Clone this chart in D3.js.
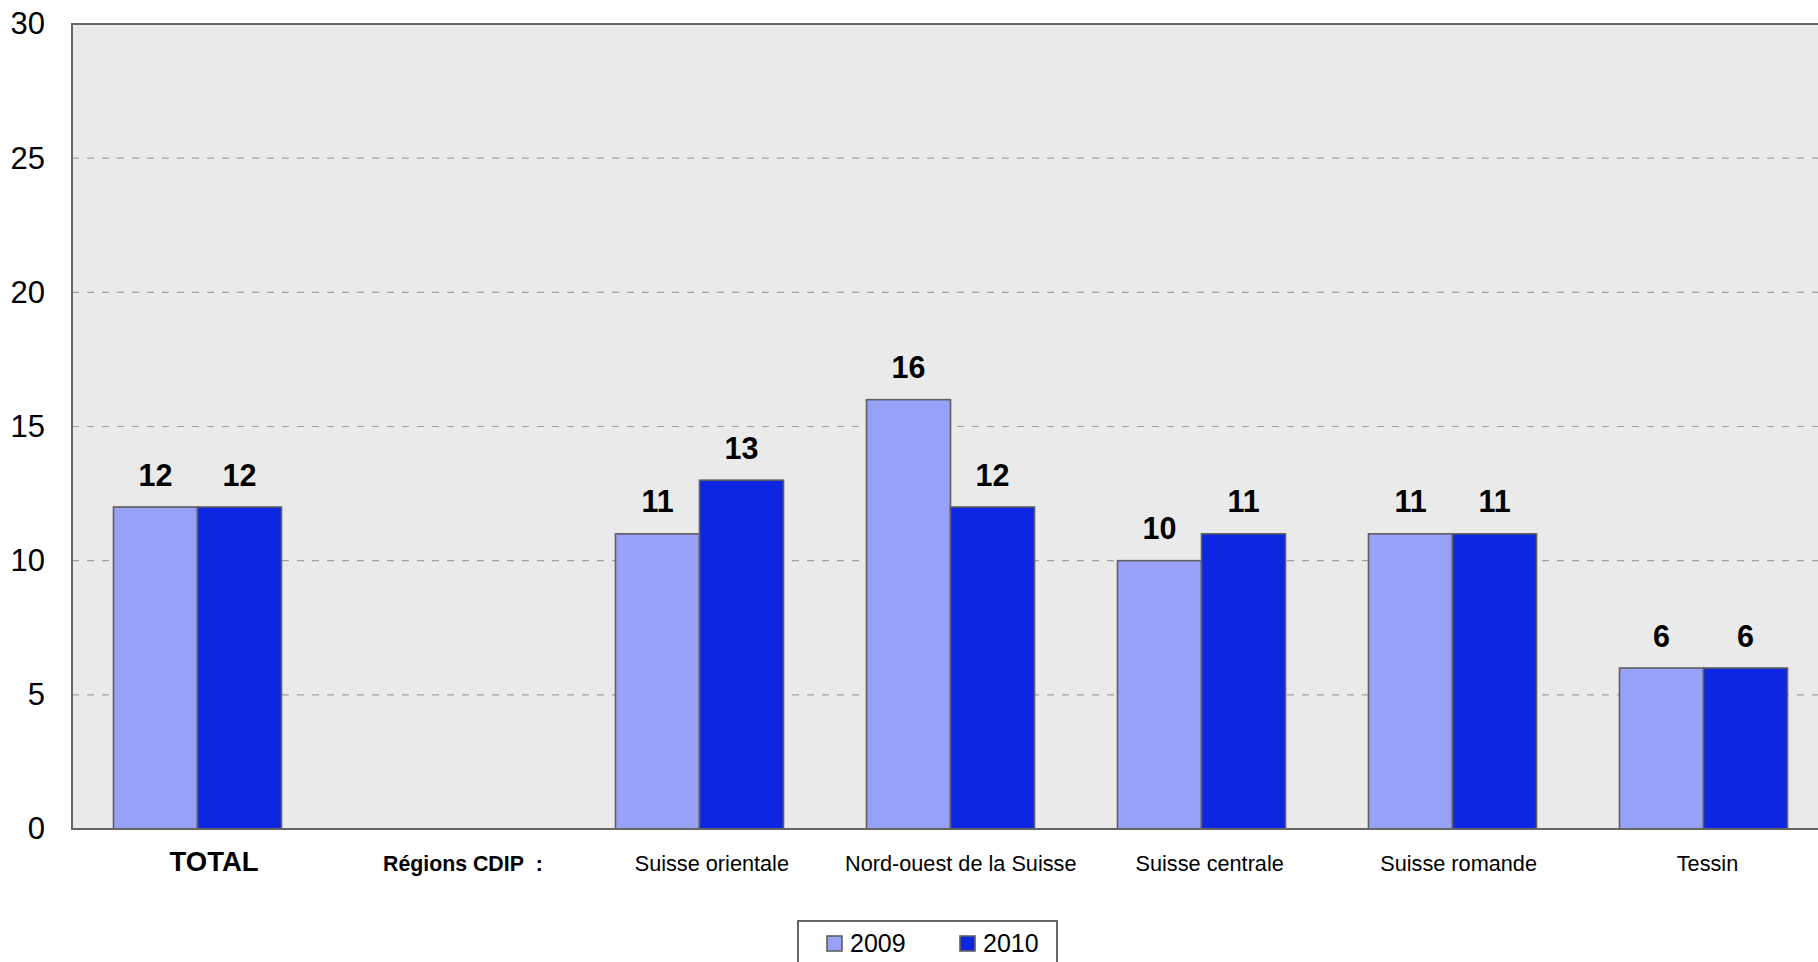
<!DOCTYPE html>
<html>
<head>
<meta charset="utf-8">
<script src="https://cdn.jsdelivr.net/npm/d3@7"></script>
<style>
  html, body { margin: 0; padding: 0; background: #ffffff; overflow: hidden; }
  svg { display: block; font-family: "Liberation Sans", Arial, sans-serif; }
</style>
</head>
<body>
<svg id="chart" width="1818" height="962"></svg>
<script>
// ---- data ----
const categories = ["TOTAL", "Régions CDIP\u00a0\u00a0:", "Suisse orientale", "Nord-ouest de la Suisse", "Suisse centrale", "Suisse romande", "Tessin"];
const boldCategories = ["TOTAL", "Régions CDIP\u00a0\u00a0:"];
const years = ["2009", "2010"];
const values2009 = [12, null, 11, 16, 10, 11, 6];
const values2010 = [12, null, 13, 12, 11, 11, 6];
const yTicks = [0, 5, 10, 15, 20, 25, 30];
const colors = ["#97a1f8", "#0c26e2"];

const series = [values2009, values2010];

const svg = d3.select("#chart");
const plotLeft = 72, plotTop = 24, plotBottom = 829, bandStep = 251;
const plotRight = plotLeft + bandStep * categories.length;

const x = d3.scaleBand().domain(categories).range([plotLeft, plotRight])
  .paddingInner(83 / 251).paddingOuter(83 / 502);
const xs = d3.scaleBand().domain(years).range([0, x.bandwidth()]).padding(0);
const y = d3.scaleLinear().domain([0, 30]).range([plotBottom, plotTop]);
const xLabel = d3.scalePoint().domain(categories).range([213.5, 1707]);

// plot background
svg.append("rect").attr("x", plotLeft).attr("y", plotTop)
  .attr("width", plotRight - plotLeft).attr("height", plotBottom - plotTop)
  .attr("fill", "#eaeaea");

// gridlines
svg.append("g").selectAll("line").data(yTicks.filter(t => t > 0 && t < 30)).join("line")
  .attr("x1", plotLeft).attr("x2", plotRight)
  .attr("y1", d => y(d)).attr("y2", d => y(d))
  .attr("stroke", "#a0a0a0").attr("stroke-width", 1.2)
  .attr("stroke-dasharray", "7,8");

// bars
const rows = categories.map((c, i) => ({ c, vals: series.map((s, j) => ({ year: years[j], v: s[i], j })) }));
const groups = svg.append("g").selectAll("g").data(rows).join("g")
  .attr("transform", d => `translate(${x(d.c)},0)`);
groups.selectAll("rect").data(d => d.vals.filter(v => v.v != null)).join("rect")
  .attr("x", d => xs(d.year)).attr("width", xs.bandwidth())
  .attr("y", d => y(d.v)).attr("height", d => y(0) - y(d.v))
  .attr("fill", d => colors[d.j])
  .attr("stroke", "#5f5f5f").attr("stroke-width", 1.6);
groups.selectAll("text").data(d => d.vals.filter(v => v.v != null)).join("text")
  .attr("x", d => xs(d.year) + xs.bandwidth() / 2)
  .attr("y", d => y(d.v) - 21.5)
  .attr("text-anchor", "middle")
  .attr("font-weight", "bold").attr("font-size", 30.5)
  .attr("fill", "#000")
  .text(d => d.v);

// frame (left, top, bottom)
svg.append("path")
  .attr("d", `M${plotRight},${plotTop}H${plotLeft}V${plotBottom}H${plotRight}`)
  .attr("fill", "none").attr("stroke", "#666666").attr("stroke-width", 2);

// y axis labels
const yAxis = d3.axisLeft(y).tickValues(yTicks).tickSize(0).tickPadding(27);
const gy = svg.append("g").attr("transform", `translate(${plotLeft},0)`).call(yAxis);
gy.select(".domain").remove();
gy.selectAll("text").attr("font-size", 31).attr("fill", "#000")
  .attr("font-family", "'Liberation Sans', Arial, sans-serif");

// x axis labels
const xAxis = d3.axisBottom(xLabel).tickSize(0).tickPadding(0);
const gx = svg.append("g").attr("transform", `translate(0,871)`).call(xAxis);
gx.select(".domain").remove();
gx.selectAll("text")
  .attr("dy", 0).attr("y", 0)
  .attr("fill", "#000")
  .attr("font-family", "'Liberation Sans', Arial, sans-serif")
  .attr("font-weight", d => boldCategories.includes(d) ? "bold" : "normal")
  .attr("font-size", d => d === "TOTAL" ? 27.5 : (boldCategories.includes(d) ? 21.3 : 21.7));

// legend
const lg = svg.append("g");
lg.append("rect").attr("x", 798).attr("y", 921).attr("width", 259).attr("height", 60)
  .attr("fill", "#ffffff").attr("stroke", "#666666").attr("stroke-width", 2);
const lx = [827, 960];
years.forEach((yr, i) => {
  lg.append("rect").attr("x", lx[i]).attr("y", 936).attr("width", 15).attr("height", 15)
    .attr("fill", colors[i]).attr("stroke", "#5f5f5f").attr("stroke-width", 1.6);
  lg.append("text").attr("x", lx[i] + 23).attr("y", 952)
    .attr("font-size", 25).attr("fill", "#000").text(yr);
});
</script>
</body>
</html>
